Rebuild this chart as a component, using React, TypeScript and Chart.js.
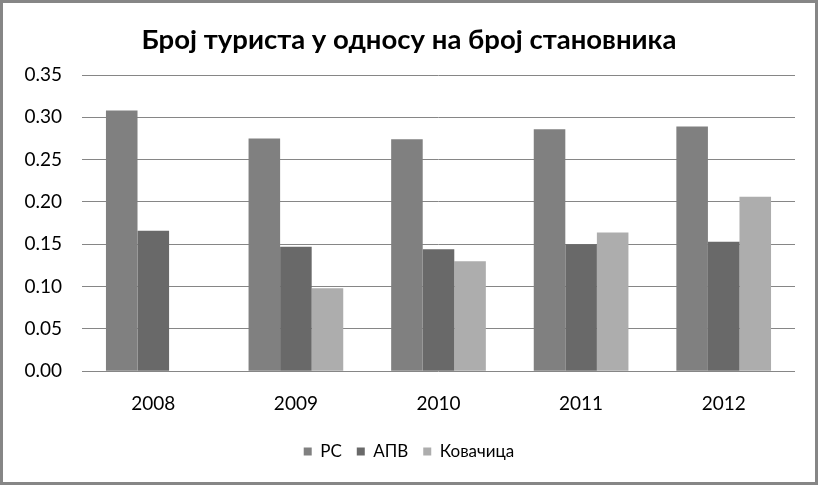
import React, { useEffect, useRef } from "react";
import { Chart, registerables } from "chart.js";

Chart.register(...registerables);

const categories = ["2008", "2009", "2010", "2011", "2012"];
const seriesNames = ["РС", "АПВ", "Ковачица"];
const rsValues = [0.308, 0.275, 0.274, 0.286, 0.289];
const apvValues = [0.166, 0.147, 0.144, 0.150, 0.153];
const kovacicaValues = [null, 0.098, 0.130, 0.164, 0.206];
const yTicks = { min: 0, max: 0.35, step: 0.05 };
const titleText = "Број туриста у односу на број становника";

const FONT = "Lato, Carlito, 'Noto Sans', sans-serif";

const borderPlugin = {
  id: "outerBorder",
  afterDraw(chart: any) {
    const { ctx, width, height } = chart;
    ctx.save();
    ctx.strokeStyle = "#868686";
    ctx.lineWidth = 3;
    ctx.strokeRect(1.5, 1.5, width - 3, height - 3);
    ctx.restore();
  },
};

export default function App() {
  const ref = useRef<HTMLCanvasElement>(null);
  useEffect(() => {
    document.body.style.margin = "0";
    const chart = new Chart(ref.current!, {
      type: "bar",
      data: {
        labels: categories,
        datasets: [
          { label: seriesNames[0], data: rsValues, backgroundColor: "#808080" },
          { label: seriesNames[1], data: apvValues, backgroundColor: "#696969" },
          { label: seriesNames[2], data: kovacicaValues as any, backgroundColor: "#adadad" },
        ],
      },
      options: {
        responsive: false,
        animation: false,
        layout: { padding: { left: 23, right: 23, top: 24, bottom: 15 } },
        datasets: { bar: { barPercentage: 1, categoryPercentage: 0.664 } },
        plugins: {
          title: {
            display: true,
            text: titleText,
            color: "#000",
            font: { family: FONT, size: 27.5, weight: "bold" },
            padding: { top: 0, bottom: 18 },
          },
          legend: {
            position: "bottom",
            labels: {
              boxWidth: 8,
              boxHeight: 8,
              color: "#000",
              font: { family: FONT, size: 17 },
              padding: 15,
            },
          },
          tooltip: { enabled: false },
        },
        scales: {
          x: {
            grid: { display: false },
            border: { display: false },
            ticks: { color: "#000", font: { family: FONT, size: 19 }, padding: 13 },
          },
          y: {
            min: yTicks.min,
            max: yTicks.max,
            grid: { color: "#868686", drawTicks: false },
            border: { display: false },
            afterFit: (s: any) => {
              s.width = 59;
            },
            ticks: {
              stepSize: yTicks.step,
              color: "#000",
              font: { family: FONT, size: 19 },
              padding: 20,
              callback: (v: any) => Number(v).toFixed(2),
            },
          },
        },
      },
      plugins: [borderPlugin],
    });
    return () => chart.destroy();
  }, []);
  return <canvas ref={ref} width={818} height={485} style={{ display: "block" }} />;
}
